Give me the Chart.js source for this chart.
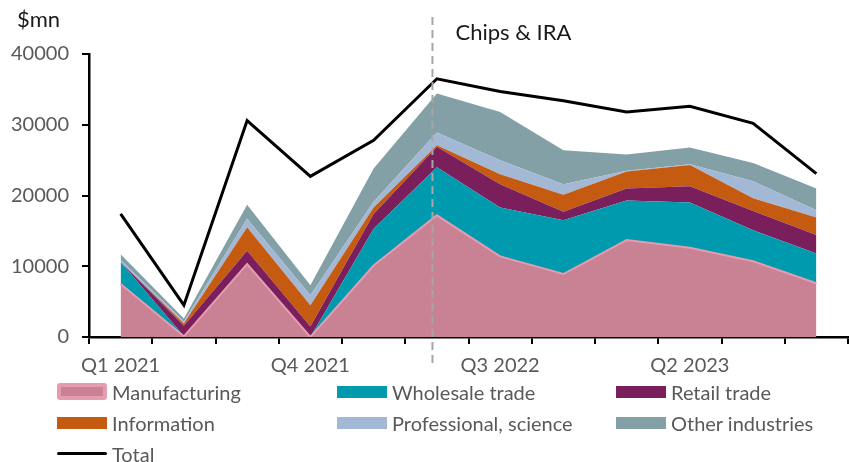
<!DOCTYPE html>
<html>
<head>
<meta charset="utf-8">
<script src="https://cdn.jsdelivr.net/npm/chart.js@4.4.1/dist/chart.umd.min.js"></script>
<style>
  body { margin: 0; background: #fff; }
  #wrap { position: relative; width: 849px; height: 462px; font-family: Lato, sans-serif; }
  #legend { position: absolute; left: 57px; top: 376px; display: grid; grid-template-columns: 280px 279px 233px; grid-auto-rows: 31px; }
  .item { display: flex; align-items: center; font-size: 20px; color: #595959; white-space: nowrap; }
  .swatch { width: 50px; height: 12px; margin-right: 5px; flex: none; box-sizing: border-box; }
</style>
</head>
<body>
<div id="wrap">
  <canvas id="myChart" width="849" height="462"></canvas>
  <div id="legend"></div>
</div>
<script>
"use strict"

// quarterly values, $mn
const quarters = ['Q1 2021', 'Q2 2021', 'Q3 2021', 'Q4 2021', 'Q1 2022', 'Q2 2022',
                  'Q3 2022', 'Q4 2022', 'Q1 2023', 'Q2 2023', 'Q3 2023', 'Q4 2023'];
const manufacturing = [7500, 100, 10300, 0, 10100, 17200, 11400, 8900, 13700, 12600, 10700, 7600];
const wholesale     = [3100, 0, 0, 0, 5200, 6800, 6900, 7600, 5600, 6400, 4400, 4200];
const retail        = [0, 1500, 1900, 1500, 2100, 2900, 3300, 1200, 1700, 2300, 2700, 2600];
const information   = [0, 300, 3300, 3000, 900, 200, 1400, 2400, 2400, 3000, 1800, 2500];
const professional  = [300, 300, 1200, 1400, 800, 1800, 2000, 1500, 100, 100, 2400, 1000];
const other         = [800, 400, 2000, 1400, 4700, 5500, 6800, 4800, 2300, 2400, 2600, 3100];
const total         = [17400, 4500, 30600, 22700, 27800, 36500, 34700, 33400, 31800, 32600, 30200, 23100];
const yTicks = [0, 10000, 20000, 30000, 40000];
const chipsAt = 4.93; // Chips Act & IRA, in quarter index units

const seriesNames = ['Manufacturing', 'Wholesale trade', 'Retail trade', 'Information', 'Professional, science', 'Other industries'];
const seriesData = [manufacturing, wholesale, retail, information, professional, other];
const seriesColors = ['#c88294', '#009aae', '#7a1f5c', '#c55a11', '#a2b8d5', '#84a0a7'];

Chart.defaults.font.family = 'Lato, sans-serif';
Chart.defaults.font.size = 20;

let datasets = [{
  label: 'Total',
  data: total,
  stack: 'total',
  borderColor: '#000',
  borderWidth: 3,
  pointRadius: 0,
  fill: false
}];

for (let i = 0; i < seriesNames.length; i++) {
  datasets.push({
    label: seriesNames[i],
    data: seriesData[i],
    stack: 'industries',
    backgroundColor: seriesColors[i],
    borderColor: i === 0 ? '#e59bb0' : seriesColors[i],
    borderWidth: i === 0 ? 2 : 0,
    pointRadius: 0,
    fill: i === 0 ? 'origin' : '-1'
  });
}

const chipsLine = {
  id: 'chipsLine',
  afterDatasetsDraw(chart) {
    let ctx = chart.ctx;
    let area = chart.chartArea;
    let x = chart.scales.x.getPixelForValue(chipsAt);
    ctx.save();
    ctx.strokeStyle = '#a6a6a6';
    ctx.lineWidth = 2;
    ctx.setLineDash([8, 5]);
    ctx.beginPath();
    ctx.moveTo(x, area.top - 37);
    ctx.lineTo(x, area.bottom + 31);
    ctx.stroke();
    ctx.setLineDash([]);
    ctx.fillStyle = '#1a1a1a';
    ctx.font = '22px Lato, sans-serif';
    ctx.textBaseline = 'middle';
    ctx.fillText('Chips & IRA', x + 23, area.top - 21);
    ctx.fillText('$mn', 17, area.top - 34);
    ctx.restore();
  }
};

let myChart = document.getElementById('myChart').getContext('2d');

let industryChart = new Chart(myChart, {
  type: 'line',
  data: {
    labels: quarters,
    datasets: datasets
  },
  options: {
    responsive: false,
    animation: false,
    elements: { line: { tension: 0 } },
    layout: { padding: { left: 0, right: 1, top: 54, bottom: 85 } },
    plugins: {
      legend: { display: false },
      tooltip: { enabled: false }
    },
    scales: {
      x: {
        offset: true,
        afterFit: s => { s.height = 40; },
        grid: { offset: true, drawOnChartArea: false, drawTicks: true, tickLength: 7, color: '#000', lineWidth: 2 },
        border: { color: '#000', width: 2.5 },
        ticks: {
          autoSkip: false,
          maxRotation: 0,
          padding: 10,
          color: '#595959',
          callback: (v, i) => i % 3 === 0 ? quarters[i] : ''
        }
      },
      y: {
        stacked: true,
        min: yTicks[0],
        max: yTicks[yTicks.length - 1],
        afterFit: s => { s.width = 89; },
        afterBuildTicks: s => { s.ticks = yTicks.map(v => ({ value: v })); },
        grid: { drawOnChartArea: false, drawTicks: true, tickLength: 7, color: '#000', lineWidth: 2 },
        border: { color: '#000', width: 2.5 },
        ticks: { padding: 13, color: '#595959', callback: v => v }
      }
    }
  },
  plugins: [chipsLine]
});

// legend in three columns like the original
let legend = document.getElementById('legend');
let legendItems = seriesNames.map((n, i) => ({ name: n, color: seriesColors[i] }));
legendItems.push({ name: 'Total', color: '#000' });
legendItems.forEach((it, i) => {
  let item = document.createElement('div');
  item.className = 'item';
  let sw = document.createElement('span');
  sw.className = 'swatch';
  sw.style.background = it.color;
  if (i === 0) {
    sw.style.height = '17px';
    sw.style.border = '4px solid #e59bb0';
    sw.style.borderRadius = '3px';
  }
  if (it.name === 'Total') {
    sw.style.height = '3px';
    sw.style.borderRadius = '2px';
  }
  item.appendChild(sw);
  item.appendChild(document.createTextNode(it.name));
  legend.appendChild(item);
});
</script>
</body>
</html>
